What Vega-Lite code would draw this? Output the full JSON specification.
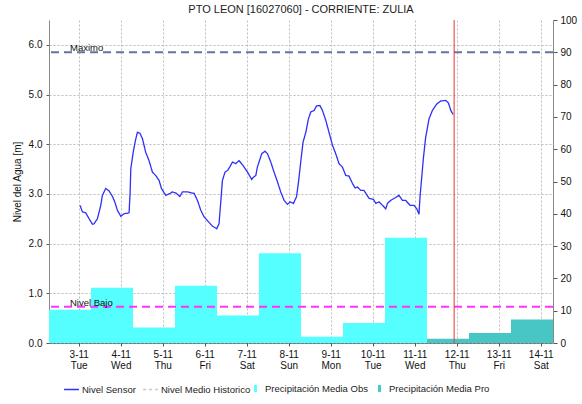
{
  "$schema": "https://vega.github.io/schema/vega-lite/v6.json",
  "autosize": "none",
  "width": 504,
  "height": 323,
  "padding": {"left": 49, "top": 20, "right": 29, "bottom": 61},
  "background": "white",
  "title": {"text": "PTO LEON [16027060] - CORRIENTE: ZULIA", "font": "Liberation Sans", "fontSize": 11, "fontWeight": "normal", "color": "#222", "offset": 0},
  "config": {
    "font": "Liberation Sans",
    "view": {"stroke": null},
    "axis": {"labelFont": "Liberation Sans", "labelFontSize": 10, "labelColor": "#111", "titleFont": "Liberation Sans", "titleFontSize": 10, "titleFontWeight": "normal", "titleColor": "#111", "gridColor": "#bdbdbd", "gridDash": [2, 2], "gridWidth": 1, "domainColor": "#888", "tickColor": "#555", "tickSize": 3, "labelOverlap": false},
    "legend": {"labelFont": "Liberation Sans", "labelFontSize": 9.5, "labelColor": "#222", "labelOffset": 2, "columnPadding": 4, "padding": 0}
  },
  "datasets": {
    "sensor": [
      {"t": "2020-11-03T00:45", "v": 2.77, "serie": "Nivel Sensor"},
      {"t": "2020-11-03T02:05", "v": 2.64, "serie": "Nivel Sensor"},
      {"t": "2020-11-03T04:00", "v": 2.62, "serie": "Nivel Sensor"},
      {"t": "2020-11-03T05:55", "v": 2.50, "serie": "Nivel Sensor"},
      {"t": "2020-11-03T07:50", "v": 2.39, "serie": "Nivel Sensor"},
      {"t": "2020-11-03T08:45", "v": 2.40, "serie": "Nivel Sensor"},
      {"t": "2020-11-03T10:40", "v": 2.50, "serie": "Nivel Sensor"},
      {"t": "2020-11-03T12:35", "v": 2.77, "serie": "Nivel Sensor"},
      {"t": "2020-11-03T13:30", "v": 2.97, "serie": "Nivel Sensor"},
      {"t": "2020-11-03T15:25", "v": 3.11, "serie": "Nivel Sensor"},
      {"t": "2020-11-03T17:20", "v": 3.06, "serie": "Nivel Sensor"},
      {"t": "2020-11-03T19:15", "v": 2.95, "serie": "Nivel Sensor"},
      {"t": "2020-11-03T20:35", "v": 2.84, "serie": "Nivel Sensor"},
      {"t": "2020-11-03T22:05", "v": 2.67, "serie": "Nivel Sensor"},
      {"t": "2020-11-04T00:00", "v": 2.55, "serie": "Nivel Sensor"},
      {"t": "2020-11-04T01:55", "v": 2.60, "serie": "Nivel Sensor"},
      {"t": "2020-11-04T04:45", "v": 2.62, "serie": "Nivel Sensor"},
      {"t": "2020-11-04T05:20", "v": 3.01, "serie": "Nivel Sensor"},
      {"t": "2020-11-04T05:45", "v": 3.51, "serie": "Nivel Sensor"},
      {"t": "2020-11-04T07:00", "v": 3.81, "serie": "Nivel Sensor"},
      {"t": "2020-11-04T08:10", "v": 4.04, "serie": "Nivel Sensor"},
      {"t": "2020-11-04T09:30", "v": 4.24, "serie": "Nivel Sensor"},
      {"t": "2020-11-04T11:00", "v": 4.22, "serie": "Nivel Sensor"},
      {"t": "2020-11-04T12:25", "v": 4.11, "serie": "Nivel Sensor"},
      {"t": "2020-11-04T14:15", "v": 3.84, "serie": "Nivel Sensor"},
      {"t": "2020-11-04T16:10", "v": 3.67, "serie": "Nivel Sensor"},
      {"t": "2020-11-04T18:05", "v": 3.44, "serie": "Nivel Sensor"},
      {"t": "2020-11-04T20:00", "v": 3.37, "serie": "Nivel Sensor"},
      {"t": "2020-11-04T21:55", "v": 3.27, "serie": "Nivel Sensor"},
      {"t": "2020-11-04T23:15", "v": 3.11, "serie": "Nivel Sensor"},
      {"t": "2020-11-05T01:45", "v": 2.97, "serie": "Nivel Sensor"},
      {"t": "2020-11-05T04:10", "v": 3.01, "serie": "Nivel Sensor"},
      {"t": "2020-11-05T05:30", "v": 3.04, "serie": "Nivel Sensor"},
      {"t": "2020-11-05T07:25", "v": 3.02, "serie": "Nivel Sensor"},
      {"t": "2020-11-05T09:45", "v": 2.95, "serie": "Nivel Sensor"},
      {"t": "2020-11-05T11:15", "v": 3.04, "serie": "Nivel Sensor"},
      {"t": "2020-11-05T14:05", "v": 3.04, "serie": "Nivel Sensor"},
      {"t": "2020-11-05T17:55", "v": 3.01, "serie": "Nivel Sensor"},
      {"t": "2020-11-05T19:50", "v": 2.87, "serie": "Nivel Sensor"},
      {"t": "2020-11-05T21:45", "v": 2.67, "serie": "Nivel Sensor"},
      {"t": "2020-11-05T23:35", "v": 2.54, "serie": "Nivel Sensor"},
      {"t": "2020-11-06T01:35", "v": 2.46, "serie": "Nivel Sensor"},
      {"t": "2020-11-06T04:25", "v": 2.35, "serie": "Nivel Sensor"},
      {"t": "2020-11-06T06:50", "v": 2.30, "serie": "Nivel Sensor"},
      {"t": "2020-11-06T08:10", "v": 2.40, "serie": "Nivel Sensor"},
      {"t": "2020-11-06T09:05", "v": 2.81, "serie": "Nivel Sensor"},
      {"t": "2020-11-06T10:05", "v": 3.27, "serie": "Nivel Sensor"},
      {"t": "2020-11-06T11:35", "v": 3.44, "serie": "Nivel Sensor"},
      {"t": "2020-11-06T13:00", "v": 3.47, "serie": "Nivel Sensor"},
      {"t": "2020-11-06T14:15", "v": 3.54, "serie": "Nivel Sensor"},
      {"t": "2020-11-06T15:50", "v": 3.64, "serie": "Nivel Sensor"},
      {"t": "2020-11-06T17:45", "v": 3.61, "serie": "Nivel Sensor"},
      {"t": "2020-11-06T19:35", "v": 3.67, "serie": "Nivel Sensor"},
      {"t": "2020-11-06T21:55", "v": 3.57, "serie": "Nivel Sensor"},
      {"t": "2020-11-07T00:25", "v": 3.44, "serie": "Nivel Sensor"},
      {"t": "2020-11-07T02:50", "v": 3.29, "serie": "Nivel Sensor"},
      {"t": "2020-11-07T03:35", "v": 3.33, "serie": "Nivel Sensor"},
      {"t": "2020-11-07T05:10", "v": 3.37, "serie": "Nivel Sensor"},
      {"t": "2020-11-07T06:05", "v": 3.54, "serie": "Nivel Sensor"},
      {"t": "2020-11-07T07:00", "v": 3.64, "serie": "Nivel Sensor"},
      {"t": "2020-11-07T08:35", "v": 3.81, "serie": "Nivel Sensor"},
      {"t": "2020-11-07T10:25", "v": 3.86, "serie": "Nivel Sensor"},
      {"t": "2020-11-07T11:50", "v": 3.81, "serie": "Nivel Sensor"},
      {"t": "2020-11-07T13:45", "v": 3.64, "serie": "Nivel Sensor"},
      {"t": "2020-11-07T15:35", "v": 3.44, "serie": "Nivel Sensor"},
      {"t": "2020-11-07T17:35", "v": 3.24, "serie": "Nivel Sensor"},
      {"t": "2020-11-07T19:25", "v": 3.04, "serie": "Nivel Sensor"},
      {"t": "2020-11-07T21:20", "v": 2.87, "serie": "Nivel Sensor"},
      {"t": "2020-11-07T23:15", "v": 2.79, "serie": "Nivel Sensor"},
      {"t": "2020-11-08T00:45", "v": 2.84, "serie": "Nivel Sensor"},
      {"t": "2020-11-08T02:40", "v": 2.81, "serie": "Nivel Sensor"},
      {"t": "2020-11-08T04:25", "v": 2.94, "serie": "Nivel Sensor"},
      {"t": "2020-11-08T05:35", "v": 3.24, "serie": "Nivel Sensor"},
      {"t": "2020-11-08T06:50", "v": 3.64, "serie": "Nivel Sensor"},
      {"t": "2020-11-08T08:10", "v": 4.04, "serie": "Nivel Sensor"},
      {"t": "2020-11-08T09:45", "v": 4.24, "serie": "Nivel Sensor"},
      {"t": "2020-11-08T11:15", "v": 4.51, "serie": "Nivel Sensor"},
      {"t": "2020-11-08T12:35", "v": 4.65, "serie": "Nivel Sensor"},
      {"t": "2020-11-08T14:30", "v": 4.68, "serie": "Nivel Sensor"},
      {"t": "2020-11-08T15:50", "v": 4.77, "serie": "Nivel Sensor"},
      {"t": "2020-11-08T17:45", "v": 4.78, "serie": "Nivel Sensor"},
      {"t": "2020-11-08T19:15", "v": 4.68, "serie": "Nivel Sensor"},
      {"t": "2020-11-08T21:10", "v": 4.48, "serie": "Nivel Sensor"},
      {"t": "2020-11-08T23:00", "v": 4.24, "serie": "Nivel Sensor"},
      {"t": "2020-11-09T01:00", "v": 3.98, "serie": "Nivel Sensor"},
      {"t": "2020-11-09T02:50", "v": 3.81, "serie": "Nivel Sensor"},
      {"t": "2020-11-09T04:45", "v": 3.61, "serie": "Nivel Sensor"},
      {"t": "2020-11-09T06:40", "v": 3.54, "serie": "Nivel Sensor"},
      {"t": "2020-11-09T08:35", "v": 3.37, "serie": "Nivel Sensor"},
      {"t": "2020-11-09T10:25", "v": 3.36, "serie": "Nivel Sensor"},
      {"t": "2020-11-09T12:25", "v": 3.21, "serie": "Nivel Sensor"},
      {"t": "2020-11-09T13:55", "v": 3.12, "serie": "Nivel Sensor"},
      {"t": "2020-11-09T15:15", "v": 3.14, "serie": "Nivel Sensor"},
      {"t": "2020-11-09T17:10", "v": 3.07, "serie": "Nivel Sensor"},
      {"t": "2020-11-09T19:00", "v": 3.07, "serie": "Nivel Sensor"},
      {"t": "2020-11-09T21:55", "v": 2.91, "serie": "Nivel Sensor"},
      {"t": "2020-11-10T00:25", "v": 2.89, "serie": "Nivel Sensor"},
      {"t": "2020-11-10T01:45", "v": 2.81, "serie": "Nivel Sensor"},
      {"t": "2020-11-10T03:35", "v": 2.84, "serie": "Nivel Sensor"},
      {"t": "2020-11-10T05:35", "v": 2.77, "serie": "Nivel Sensor"},
      {"t": "2020-11-10T07:25", "v": 2.70, "serie": "Nivel Sensor"},
      {"t": "2020-11-10T08:25", "v": 2.81, "serie": "Nivel Sensor"},
      {"t": "2020-11-10T10:15", "v": 2.87, "serie": "Nivel Sensor"},
      {"t": "2020-11-10T13:10", "v": 2.93, "serie": "Nivel Sensor"},
      {"t": "2020-11-10T15:00", "v": 2.97, "serie": "Nivel Sensor"},
      {"t": "2020-11-10T17:00", "v": 2.87, "serie": "Nivel Sensor"},
      {"t": "2020-11-10T18:50", "v": 2.87, "serie": "Nivel Sensor"},
      {"t": "2020-11-10T21:20", "v": 2.77, "serie": "Nivel Sensor"},
      {"t": "2020-11-10T23:35", "v": 2.77, "serie": "Nivel Sensor"},
      {"t": "2020-11-11T01:10", "v": 2.70, "serie": "Nivel Sensor"},
      {"t": "2020-11-11T02:25", "v": 2.59, "serie": "Nivel Sensor"},
      {"t": "2020-11-11T03:00", "v": 2.94, "serie": "Nivel Sensor"},
      {"t": "2020-11-11T03:50", "v": 3.27, "serie": "Nivel Sensor"},
      {"t": "2020-11-11T05:00", "v": 3.74, "serie": "Nivel Sensor"},
      {"t": "2020-11-11T06:15", "v": 4.14, "serie": "Nivel Sensor"},
      {"t": "2020-11-11T08:10", "v": 4.51, "serie": "Nivel Sensor"},
      {"t": "2020-11-11T10:05", "v": 4.68, "serie": "Nivel Sensor"},
      {"t": "2020-11-11T12:35", "v": 4.81, "serie": "Nivel Sensor"},
      {"t": "2020-11-11T14:50", "v": 4.87, "serie": "Nivel Sensor"},
      {"t": "2020-11-11T17:45", "v": 4.88, "serie": "Nivel Sensor"},
      {"t": "2020-11-11T19:15", "v": 4.83, "serie": "Nivel Sensor"},
      {"t": "2020-11-11T20:35", "v": 4.68, "serie": "Nivel Sensor"},
      {"t": "2020-11-11T21:55", "v": 4.60, "serie": "Nivel Sensor"}
    ],
    "precip": [
      {"start": "2020-11-02T07:00", "end": "2020-11-03T07:00", "p": 10.3, "serie": "Precipitación Media Obs"},
      {"start": "2020-11-03T07:00", "end": "2020-11-04T07:00", "p": 17.1, "serie": "Precipitación Media Obs"},
      {"start": "2020-11-04T07:00", "end": "2020-11-05T07:00", "p": 4.8, "serie": "Precipitación Media Obs"},
      {"start": "2020-11-05T07:00", "end": "2020-11-06T07:00", "p": 17.7, "serie": "Precipitación Media Obs"},
      {"start": "2020-11-06T07:00", "end": "2020-11-07T07:00", "p": 8.5, "serie": "Precipitación Media Obs"},
      {"start": "2020-11-07T07:00", "end": "2020-11-08T07:00", "p": 27.8, "serie": "Precipitación Media Obs"},
      {"start": "2020-11-08T07:00", "end": "2020-11-09T07:00", "p": 1.9, "serie": "Precipitación Media Obs"},
      {"start": "2020-11-09T07:00", "end": "2020-11-10T07:00", "p": 6.2, "serie": "Precipitación Media Obs"},
      {"start": "2020-11-10T07:00", "end": "2020-11-11T07:00", "p": 32.6, "serie": "Precipitación Media Obs"},
      {"start": "2020-11-11T07:00", "end": "2020-11-12T07:00", "p": 1.3, "serie": "Precipitación Media Pro"},
      {"start": "2020-11-12T07:00", "end": "2020-11-13T07:00", "p": 3.1, "serie": "Precipitación Media Pro"},
      {"start": "2020-11-13T07:00", "end": "2020-11-14T07:00", "p": 7.3, "serie": "Precipitación Media Pro"}
    ],
    "niveles": [
      {"nombre": "Maximo", "nivel": 5.85},
      {"nombre": "Nivel Bajo", "nivel": 0.73}
    ],
    "ahora": [
      {"t": "2020-11-11T22:30"}
    ]
  },
  "layer": [
    {
      "data": {"name": "precip"},
      "mark": {"type": "bar", "stroke": null},
      "encoding": {
        "x": {"field": "start", "type": "temporal",
          "scale": {"domain": [{"year": 2020, "month": 11, "date": 2, "hours": 7}, {"year": 2020, "month": 11, "date": 14, "hours": 7}]},
          "axis": {"title": null, "tickCount": {"interval": "day", "step": 1}, "labelExpr": "[timeFormat(datum.value, '%-d-%m'), timeFormat(datum.value, '%a')]", "labelLineHeight": 11, "labelPadding": 3, "labelBaseline": "top", "grid": true, "domainColor": "#222", "domainDash": [1, 1], "tickSize": 3, "labelFlush": false}},
        "x2": {"field": "end"},
        "y": {"field": "p", "type": "quantitative", "scale": {"domain": [0, 100], "nice": false},
          "axis": {"orient": "right", "title": null, "values": [0, 10, 20, 30, 40, 50, 60, 70, 80, 90, 100], "grid": false, "labelPadding": 3, "tickSize": 4}},
        "y2": {"datum": 0},
        "fill": {"field": "serie", "type": "nominal",
          "scale": {"domain": ["Precipitación Media Obs", "Precipitación Media Pro"], "range": ["#55ffff", "#48c6c6"]},
          "legend": {"title": null, "orient": "none", "legendX": 199, "legendY": 361, "direction": "horizontal", "symbolType": "M-0.2,-0.5H0.2V0.5H-0.2Z", "symbolSize": 210, "symbolStrokeWidth": 0}}
      }
    },
    {
      "layer": [
        {
          "data": {"name": "sensor"},
          "mark": {"type": "line", "strokeWidth": 1.3},
          "encoding": {
            "x": {"field": "t", "type": "temporal"},
            "y": {"field": "v", "type": "quantitative", "scale": {"domain": [0, 6.5], "nice": false},
              "axis": {"orient": "left", "title": "Nivel del Agua [m]", "values": [0, 0.5, 1, 1.5, 2, 2.5, 3, 3.5, 4, 4.5, 5, 5.5, 6], "format": ".1f", "grid": true, "labelPadding": 4, "tickSize": 3, "titlePadding": 6}},
            "stroke": {"field": "serie", "type": "nominal",
              "scale": {"domain": ["Nivel Sensor", "Nivel Medio Historico"], "range": ["#2f2ff8", "#c8c8c8"]},
              "legend": {"title": null, "orient": "none", "legendX": 14, "legendY": 361, "direction": "horizontal", "symbolType": "stroke", "symbolSize": 220, "symbolStrokeWidth": 1.5}},
            "strokeDash": {"field": "serie", "type": "nominal",
              "scale": {"domain": ["Nivel Sensor", "Nivel Medio Historico"], "range": [[1, 0], [3, 3]]},
              "legend": {"title": null, "orient": "none", "legendX": 14, "legendY": 361, "direction": "horizontal", "symbolType": "stroke", "symbolSize": 220, "symbolStrokeWidth": 1.5}}
          }
        },
        {
          "data": {"name": "niveles"},
          "transform": [{"filter": "datum.nombre == 'Maximo'"}],
          "mark": {"type": "rule", "color": "#6474a0", "strokeWidth": 2, "strokeDash": [8, 5]},
          "encoding": {"y": {"field": "nivel", "type": "quantitative"}}
        },
        {
          "data": {"name": "niveles"},
          "transform": [{"filter": "datum.nombre == 'Nivel Bajo'"}],
          "mark": {"type": "rule", "color": "#ff33ff", "strokeWidth": 2, "strokeDash": [8, 5]},
          "encoding": {"y": {"field": "nivel", "type": "quantitative"}}
        },
        {
          "data": {"name": "niveles"},
          "mark": {"type": "text", "align": "left", "baseline": "bottom", "dy": 1, "fontSize": 9.5, "font": "Liberation Sans", "color": "#111"},
          "encoding": {
            "x": {"datum": {"year": 2020, "month": 11, "date": 2, "hours": 19}, "type": "temporal"},
            "y": {"field": "nivel", "type": "quantitative"},
            "text": {"field": "nombre"}
          }
        },
        {
          "data": {"name": "ahora"},
          "mark": {"type": "rule", "color": "#ee3030", "strokeWidth": 1},
          "encoding": {"x": {"field": "t", "type": "temporal"}}
        }
      ]
    }
  ],
  "resolve": {"scale": {"y": "independent"}, "axis": {"y": "independent"}}
}
